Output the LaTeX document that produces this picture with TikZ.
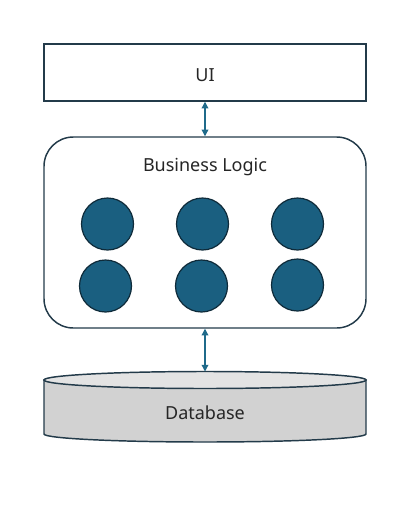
\documentclass[tikz,border=0pt]{standalone}
\usepackage{fontspec}
\setmainfont{Noto Sans}
\usetikzlibrary{arrows.meta,positioning}

\definecolor{boxline}{HTML}{233B4A}
\definecolor{dotfill}{HTML}{1A5F80}
\definecolor{dotline}{HTML}{0F2B3A}
\definecolor{linkcol}{HTML}{1F6A8A}
\definecolor{dbside}{HTML}{D2D2D2}
\definecolor{dbtop}{HTML}{E3E3E3}

\tikzset{
	layer/.style={draw=boxline, line width=1.1pt, fill=white, minimum width=241.5pt},
	unit/.style={circle, draw=dotline, line width=0.9pt, fill=dotfill, minimum size=39pt, inner sep=0pt},
	link/.style={{Triangle[length=5pt,width=5pt]}-{Triangle[length=5pt,width=5pt]}, draw=linkcol, line width=0.9pt},
	caption/.style={font=\fontsize{13.5}{15}\selectfont, text=black!85}
}

\begin{document}
\begin{tikzpicture}[x=0.75pt,y=-0.75pt]
	\useasboundingbox (0,0) rectangle (408,518);

	\node[layer, minimum height=42.75pt] (ui) at (205,72.5) {};
	\node[caption] (uiLabel) at (205,75) {UI};

	\node[layer, minimum height=143.25pt, rounded corners=22pt] (logic) at (205,232.5) {};
	\node[caption] (logicLabel) at (205,167.5) {Business Logic};

	\node[unit] (u1) at (107.5,224) {};
	\node[unit] (u2) at (202.5,224) {};
	\node[unit] (u3) at (297.5,224) {};
	\node[unit] (u4) at (105.5,286) {};
	\node[unit] (u5) at (201.5,286) {};
	\node[unit] (u6) at (297.5,285) {};

	% database
	\draw[draw=boxline, line width=1.1pt, fill=dbside] (44,380) -- (44,434) arc[start angle=180, end angle=360, x radius=161, y radius=-8] -- (366,380) -- cycle;
	\draw[draw=boxline, line width=1.1pt, fill=dbtop] (205,380) ellipse[x radius=161, y radius=8.5];
	\coordinate (db) at (205,371.5);
	\node[caption] (dbLabel) at (205,413) {Database};

	\draw[link] (ui.south) -- (logic.north);
	\draw[link] (logic.south) -- (db);
\end{tikzpicture}
\end{document}
